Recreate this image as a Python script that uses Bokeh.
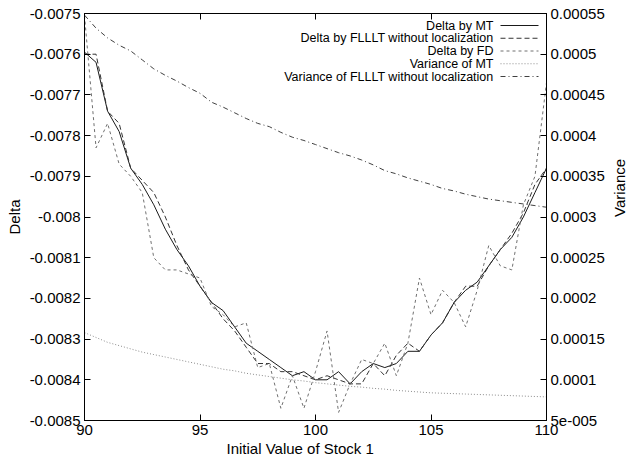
import math
from bokeh.plotting import figure
from bokeh.models import Range1d, LinearAxis, FixedTicker, Label, Arrow, CustomJSTickFormatter, Title
from bokeh.embed import file_html
from bokeh.resources import INLINE

# ---------------- data ----------------
stock = [90, 90.5, 91, 91.5, 92, 92.5, 93, 93.5, 94, 94.5, 95, 95.5, 96, 96.5,
         97, 97.5, 98, 98.5, 99, 99.5, 100, 100.5, 101, 101.5, 102, 102.5, 103,
         103.5, 104, 104.5, 105, 105.5, 106, 106.5, 107, 107.5, 108, 108.5, 109,
         109.5, 110]

delta_mt = [-0.007595, -0.00762, -0.00774, -0.00779, -0.00788, -0.00792, -0.00797,
            -0.00803, -0.00808, -0.00812, -0.00817, -0.00821, -0.00823, -0.00827,
            -0.00831, -0.00833, -0.00835, -0.00837, -0.00839, -0.00838, -0.00840,
            -0.00840, -0.00838, -0.00841, -0.00838, -0.00836, -0.00837, -0.00836,
            -0.00833, -0.00833, -0.00829, -0.00826, -0.00821, -0.00818, -0.00816,
            -0.00812, -0.00808, -0.00805, -0.00800, -0.00794, -0.00788]

delta_fl = [-0.00760, -0.00760, -0.00774, -0.00777, -0.00788, -0.00791, -0.00794,
            -0.00800, -0.00807, -0.00813, -0.00817, -0.00821, -0.00825, -0.00828,
            -0.00832, -0.00836, -0.00836, -0.00838, -0.00838, -0.00839, -0.00840,
            -0.00839, -0.00840, -0.00841, -0.00841, -0.00836, -0.00839, -0.00834,
            -0.00831, -0.00833, -0.00829, -0.00826, -0.00821, -0.00817, -0.00817,
            -0.00812, -0.00808, -0.00804, -0.00799, -0.00792, -0.00788]

delta_fd = [-0.007505, -0.00783, -0.00777, -0.00787, -0.00790, -0.00794, -0.00810,
            -0.00813, -0.00813, -0.00814, -0.00815, -0.00822, -0.00824, -0.00827,
            -0.00826, -0.00837, -0.00836, -0.00847, -0.00839, -0.00847, -0.00838,
            -0.00828, -0.00848, -0.00841, -0.00835, -0.00836, -0.00831, -0.00839,
            -0.00831, -0.00815, -0.00824, -0.00818, -0.00821, -0.00827, -0.00818,
            -0.00807, -0.00812, -0.00813, -0.00797, -0.00790, -0.00767]

var_mt = [0.000158, 0.000152, 0.000146, 0.000142, 0.000138, 0.000134, 0.000131,
          0.000128, 0.000125, 0.000122, 0.000119, 0.000116, 0.000113, 0.000111,
          0.000108, 0.000106, 0.000104, 0.000102, 0.000100, 0.0000985, 0.0000965,
          0.000095, 0.0000935, 0.000092, 0.000091, 0.0000895, 0.0000885, 0.000087,
          0.000086, 0.000085, 0.000084, 0.0000835, 0.000083, 0.0000825, 0.000082,
          0.0000815, 0.000081, 0.0000805, 0.000080, 0.0000795, 0.000079]

var_fl = [0.000548, 0.000532, 0.000520, 0.000511, 0.000504, 0.000493, 0.000482,
          0.000474, 0.000467, 0.000459, 0.000452, 0.000441, 0.000435, 0.000428,
          0.000421, 0.000415, 0.000411, 0.000404, 0.000398, 0.000394, 0.000389,
          0.000384, 0.000379, 0.000375, 0.000370, 0.000364, 0.000357, 0.000353,
          0.000348, 0.000344, 0.000340, 0.000335, 0.000332, 0.000328, 0.000325,
          0.000322, 0.000320, 0.000318, 0.000316, 0.000314, 0.000312]

x_ticks = [90, 95, 100, 105, 110]
x_tick_labels = ["90", "95", "100", "105", "110"]
left_ticks = [-0.0075, -0.0076, -0.0077, -0.0078, -0.0079, -0.008, -0.0081,
              -0.0082, -0.0083, -0.0084, -0.0085]
left_tick_labels = ["-0.0075", "-0.0076", "-0.0077", "-0.0078", "-0.0079", "-0.008",
                    "-0.0081", "-0.0082", "-0.0083", "-0.0084", "-0.0085"]
right_ticks = [0.00055, 0.0005, 0.00045, 0.0004, 0.00035, 0.0003, 0.00025,
               0.0002, 0.00015, 0.0001, 0.00005]
right_tick_labels = ["0.00055", "0.0005", "0.00045", "0.0004", "0.00035", "0.0003",
                     "0.00025", "0.0002", "0.00015", "0.0001", "5e-005"]

series_names = ["Delta by MT", "Delta by FLLLT without localization", "Delta by FD",
                "Variance of MT", "Variance of FLLLT without localization"]
x_title = "Initial Value of Stock 1"
y_title = "Delta"
y2_title = "Variance"

# ---------------- styling ----------------
FONT = "Liberation Sans"
TICK_FS = "15px"
colors = ["#1a1a1a", "#333333", "#707070", "#8c8c8c", "#404040"]
dashes = ["solid", "5 3", "3 3", "1 2", "5 3 1 3"]

p = figure(width=639, height=463, output_backend="svg", toolbar_location=None,
           x_range=Range1d(90, 110), y_range=Range1d(-0.0085, -0.0075),
           min_border_left=84, min_border_right=87, min_border_top=13,
           min_border_bottom=43, background_fill_color="white",
           border_fill_color="white")
p.extra_y_ranges = {"var": Range1d(0.00005, 0.00055)}
p.xgrid.visible = False
p.ygrid.visible = False
p.outline_line_color = "black"
p.outline_line_alpha = 1.0
p.outline_line_width = 1


def style_axis(ax, ticks, labels):
    ax.ticker = FixedTicker(ticks=ticks)
    if labels is not None:
        ax.major_label_overrides = {t: l for t, l in zip(ticks, labels)}
    ax.major_tick_in = 6
    ax.major_tick_out = 0
    ax.minor_tick_line_color = None
    ax.axis_line_color = "black"
    ax.major_tick_line_color = "black"
    ax.major_label_text_font = FONT
    ax.major_label_text_font_size = TICK_FS
    ax.major_label_text_color = "black"
    ax.major_label_standoff = 4
    ax.axis_label_text_font = FONT
    ax.axis_label_text_font_size = "15px"
    ax.axis_label_text_font_style = "normal"
    ax.axis_label_text_color = "black"


style_axis(p.xaxis[0], x_ticks, x_tick_labels)
style_axis(p.yaxis[0], left_ticks, left_tick_labels)
p.yaxis[0].axis_label = y_title
p.yaxis[0].axis_label_standoff = 4

right_axis = LinearAxis(y_range_name="var")
style_axis(right_axis, right_ticks, right_tick_labels)
right_axis.axis_label = y2_title
right_axis.axis_label_standoff = 12
if "axis_label_orientation" in right_axis.properties():
    right_axis.axis_label_orientation = math.pi / 2
p.add_layout(right_axis, "right")

top_axis = LinearAxis(formatter=CustomJSTickFormatter(code="return ''"))
style_axis(top_axis, x_ticks, None)
top_axis.major_label_standoff = 0
top_axis.major_label_text_font_size = "0px"
p.add_layout(top_axis, "above")

p.add_layout(Title(text=x_title, align="left", offset=142, standoff=0,
                   text_font=FONT, text_font_size="15px", text_font_style="normal",
                   text_color="black"), "below")

# ---------------- series ----------------
p.line(stock, delta_mt, line_color=colors[0], line_width=1, line_dash=dashes[0])
p.line(stock, delta_fl, line_color=colors[1], line_width=1, line_dash=dashes[1])
p.line(stock, delta_fd, line_color=colors[2], line_width=1, line_dash=dashes[2])
p.line(stock, var_mt, y_range_name="var", line_color=colors[3], line_width=1,
       line_dash=dashes[3])
p.line(stock, var_fl, y_range_name="var", line_color=colors[4], line_width=1,
       line_dash=dashes[4])

# ---------------- legend (text on the left, sample on the right) ----------------
# screen offsets relative to the plot frame (bottom-left origin)
FRAME_H = 407
for i, name in enumerate(series_names):
    yc = FRAME_H - 12 - 12.75 * i
    p.add_layout(Label(x=409, y=yc, x_units="screen", y_units="screen", text=name,
                       text_align="right", text_baseline="middle",
                       text_font=FONT, text_font_size="12.5px", text_color="black"))
    p.add_layout(Arrow(x_start=416, y_start=yc, x_end=454, y_end=yc,
                       start_units="screen", end_units="screen", end=None,
                       line_color=colors[i], line_width=1, line_dash=dashes[i]))

open("out.html", "w").write(file_html(p, INLINE))
